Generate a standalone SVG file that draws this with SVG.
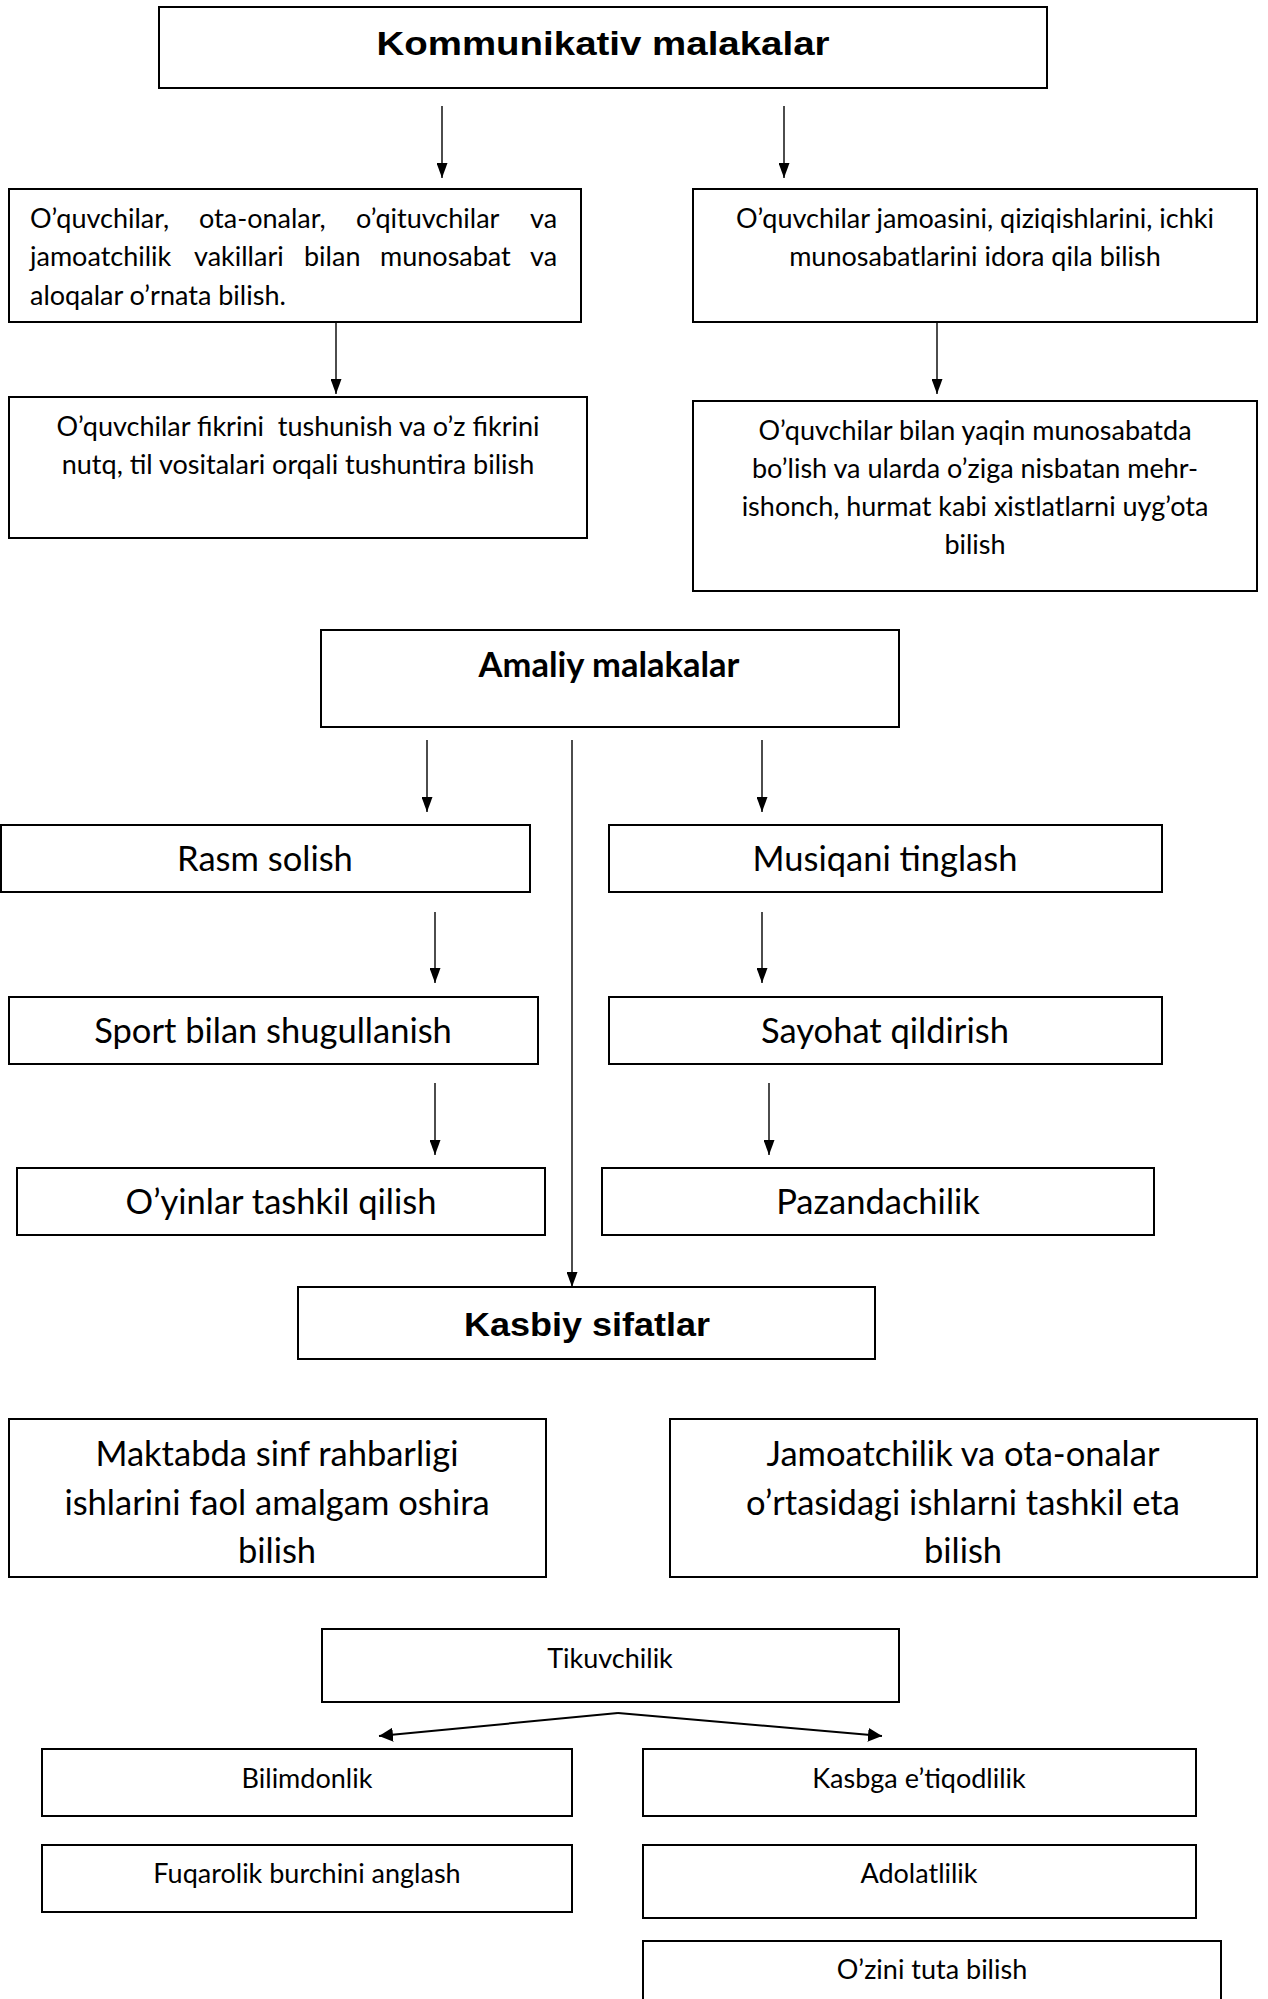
<svg xmlns="http://www.w3.org/2000/svg" width="1268" height="1999" viewBox="0 0 1268 1999">
<style>
rect{fill:#fff;stroke:#000;stroke-width:2}
text{font-family:Lato,"Liberation Sans",sans-serif;fill:#000}
.s{font-size:27px}
.m{font-size:34.5px;text-anchor:middle}
.c{text-anchor:middle}
.bm{font-size:34.5px;font-weight:bold;text-anchor:middle}
.ti{font-family:"Liberation Sans",Arial,sans-serif;font-weight:bold;font-size:34px;text-anchor:middle}
.ln{stroke:#000;stroke-width:1.4;fill:none}
.ln2{stroke:#000;stroke-width:2;fill:none}
</style>
<defs>
<marker id="ah" markerUnits="userSpaceOnUse" viewBox="0 0 15 11" refX="15" refY="5.5" markerWidth="15" markerHeight="11" orient="auto"><path d="M0,0 L15,5.5 L0,11 z" fill="#000"/></marker>
<marker id="ah2" markerUnits="userSpaceOnUse" viewBox="0 0 14 14" refX="14" refY="7" markerWidth="14" markerHeight="14" orient="auto"><path d="M0,0 L14,7 L0,14 z" fill="#000"/></marker>
</defs>

<g id="connectors">
<line class="ln" x1="442" y1="106" x2="442" y2="178" marker-end="url(#ah)"/>
<line class="ln" x1="784" y1="106" x2="784" y2="178" marker-end="url(#ah)"/>
<line class="ln" x1="336" y1="322" x2="336" y2="394" marker-end="url(#ah)"/>
<line class="ln" x1="937" y1="322" x2="937" y2="394" marker-end="url(#ah)"/>
<line class="ln" x1="427" y1="740" x2="427" y2="812" marker-end="url(#ah)"/>
<line class="ln" x1="762" y1="740" x2="762" y2="812" marker-end="url(#ah)"/>
<line class="ln" x1="572" y1="740" x2="572" y2="1287" marker-end="url(#ah)"/>
<line class="ln" x1="435" y1="912" x2="435" y2="983" marker-end="url(#ah)"/>
<line class="ln" x1="762" y1="912" x2="762" y2="983" marker-end="url(#ah)"/>
<line class="ln" x1="435" y1="1083" x2="435" y2="1155" marker-end="url(#ah)"/>
<line class="ln" x1="769" y1="1083" x2="769" y2="1155" marker-end="url(#ah)"/>
<line class="ln2" x1="618" y1="1713" x2="379" y2="1736" marker-end="url(#ah2)"/>
<line class="ln2" x1="618" y1="1713" x2="882" y2="1736" marker-end="url(#ah2)"/>
</g>

<g id="n_kommunikativ">
<rect x="159" y="7" width="888" height="81"/>
<text class="ti" x="603" y="55" textLength="453" lengthAdjust="spacingAndGlyphs">Kommunikativ malakalar</text>
</g>

<g id="n_aloqa">
<rect x="9" y="189" width="572" height="133"/>
<text class="s" y="228"><tspan x="30">O’quvchilar,</tspan><tspan x="199">ota-onalar,</tspan><tspan x="356">o’qituvchilar</tspan><tspan x="530">va</tspan></text>
<text class="s" y="266"><tspan x="30">jamoatchilik</tspan><tspan x="194">vakillari</tspan><tspan x="304">bilan</tspan><tspan x="380">munosabat</tspan><tspan x="530">va</tspan></text>
<text class="s" x="30" y="305">aloqalar o’rnata bilish.</text>
</g>

<g id="n_jamoa">
<rect x="693" y="189" width="564" height="133"/>
<text class="s c" x="975" y="228">O’quvchilar jamoasini, qiziqishlarini, ichki</text>
<text class="s c" x="975" y="266">munosabatlarini idora qila bilish</text>
</g>

<g id="n_fikr">
<rect x="9" y="397" width="578" height="141"/>
<text class="s c" x="298" y="436" xml:space="preserve">O’quvchilar fikrini  tushunish va o’z fikrini</text>
<text class="s c" x="298" y="474">nutq, til vositalari orqali tushuntira bilish</text>
</g>

<g id="n_yaqin">
<rect x="693" y="401" width="564" height="190"/>
<text class="s c" x="975" y="440">O’quvchilar bilan yaqin munosabatda</text>
<text class="s c" x="975" y="478">bo’lish va ularda o’ziga nisbatan mehr-</text>
<text class="s c" x="975" y="516">ishonch, hurmat kabi xistlatlarni uyg’ota</text>
<text class="s c" x="975" y="554">bilish</text>
</g>

<g id="n_amaliy">
<rect x="321" y="630" width="578" height="97"/>
<text class="bm" x="609" y="677">Amaliy malakalar</text>
</g>

<g id="n_rasm">
<rect x="1" y="825" width="529" height="67"/>
<text class="m" x="265" y="871">Rasm solish</text>
</g>

<g id="n_musiqa">
<rect x="609" y="825" width="553" height="67"/>
<text class="m" x="885" y="871">Musiqani tinglash</text>
</g>

<g id="n_sport">
<rect x="9" y="997" width="529" height="67"/>
<text class="m" x="273" y="1043">Sport bilan shugullanish</text>
</g>

<g id="n_sayohat">
<rect x="609" y="997" width="553" height="67"/>
<text class="m" x="885" y="1043">Sayohat qildirish</text>
</g>

<g id="n_oyinlar">
<rect x="17" y="1168" width="528" height="67"/>
<text class="m" x="281" y="1214">O’yinlar tashkil qilish</text>
</g>

<g id="n_pazandachilik">
<rect x="602" y="1168" width="552" height="67"/>
<text class="m" x="878" y="1214">Pazandachilik</text>
</g>

<g id="n_kasbiy">
<rect x="298" y="1287" width="577" height="72"/>
<text class="ti" x="587" y="1336" textLength="246" lengthAdjust="spacingAndGlyphs">Kasbiy sifatlar</text>
</g>

<g id="n_maktab">
<rect x="9" y="1419" width="537" height="158"/>
<text class="m" x="277" y="1466">Maktabda sinf rahbarligi</text>
<text class="m" x="277" y="1515">ishlarini faol amalgam oshira</text>
<text class="m" x="277" y="1563">bilish</text>
</g>

<g id="n_jamoatchilik">
<rect x="670" y="1419" width="587" height="158"/>
<text class="m" x="963" y="1466">Jamoatchilik va ota-onalar</text>
<text class="m" x="963" y="1515">o’rtasidagi ishlarni tashkil eta</text>
<text class="m" x="963" y="1563">bilish</text>
</g>

<g id="n_tikuvchilik">
<rect x="322" y="1629" width="577" height="73"/>
<text class="s c" x="610" y="1668">Tikuvchilik</text>
</g>

<g id="n_bilimdonlik">
<rect x="42" y="1749" width="530" height="67"/>
<text class="s c" x="307" y="1788">Bilimdonlik</text>
</g>

<g id="n_kasbga">
<rect x="643" y="1749" width="553" height="67"/>
<text class="s c" x="919" y="1788">Kasbga e’tiqodlilik</text>
</g>

<g id="n_fuqarolik">
<rect x="42" y="1845" width="530" height="67"/>
<text class="s c" x="307" y="1883">Fuqarolik burchini anglash</text>
</g>

<g id="n_adolatlilik">
<rect x="643" y="1845" width="553" height="73"/>
<text class="s c" x="919" y="1883">Adolatlilik</text>
</g>

<g id="n_ozini">
<rect x="643" y="1941" width="578" height="75"/>
<text class="s c" x="932" y="1979">O’zini tuta bilish</text>
</g>
</svg>
